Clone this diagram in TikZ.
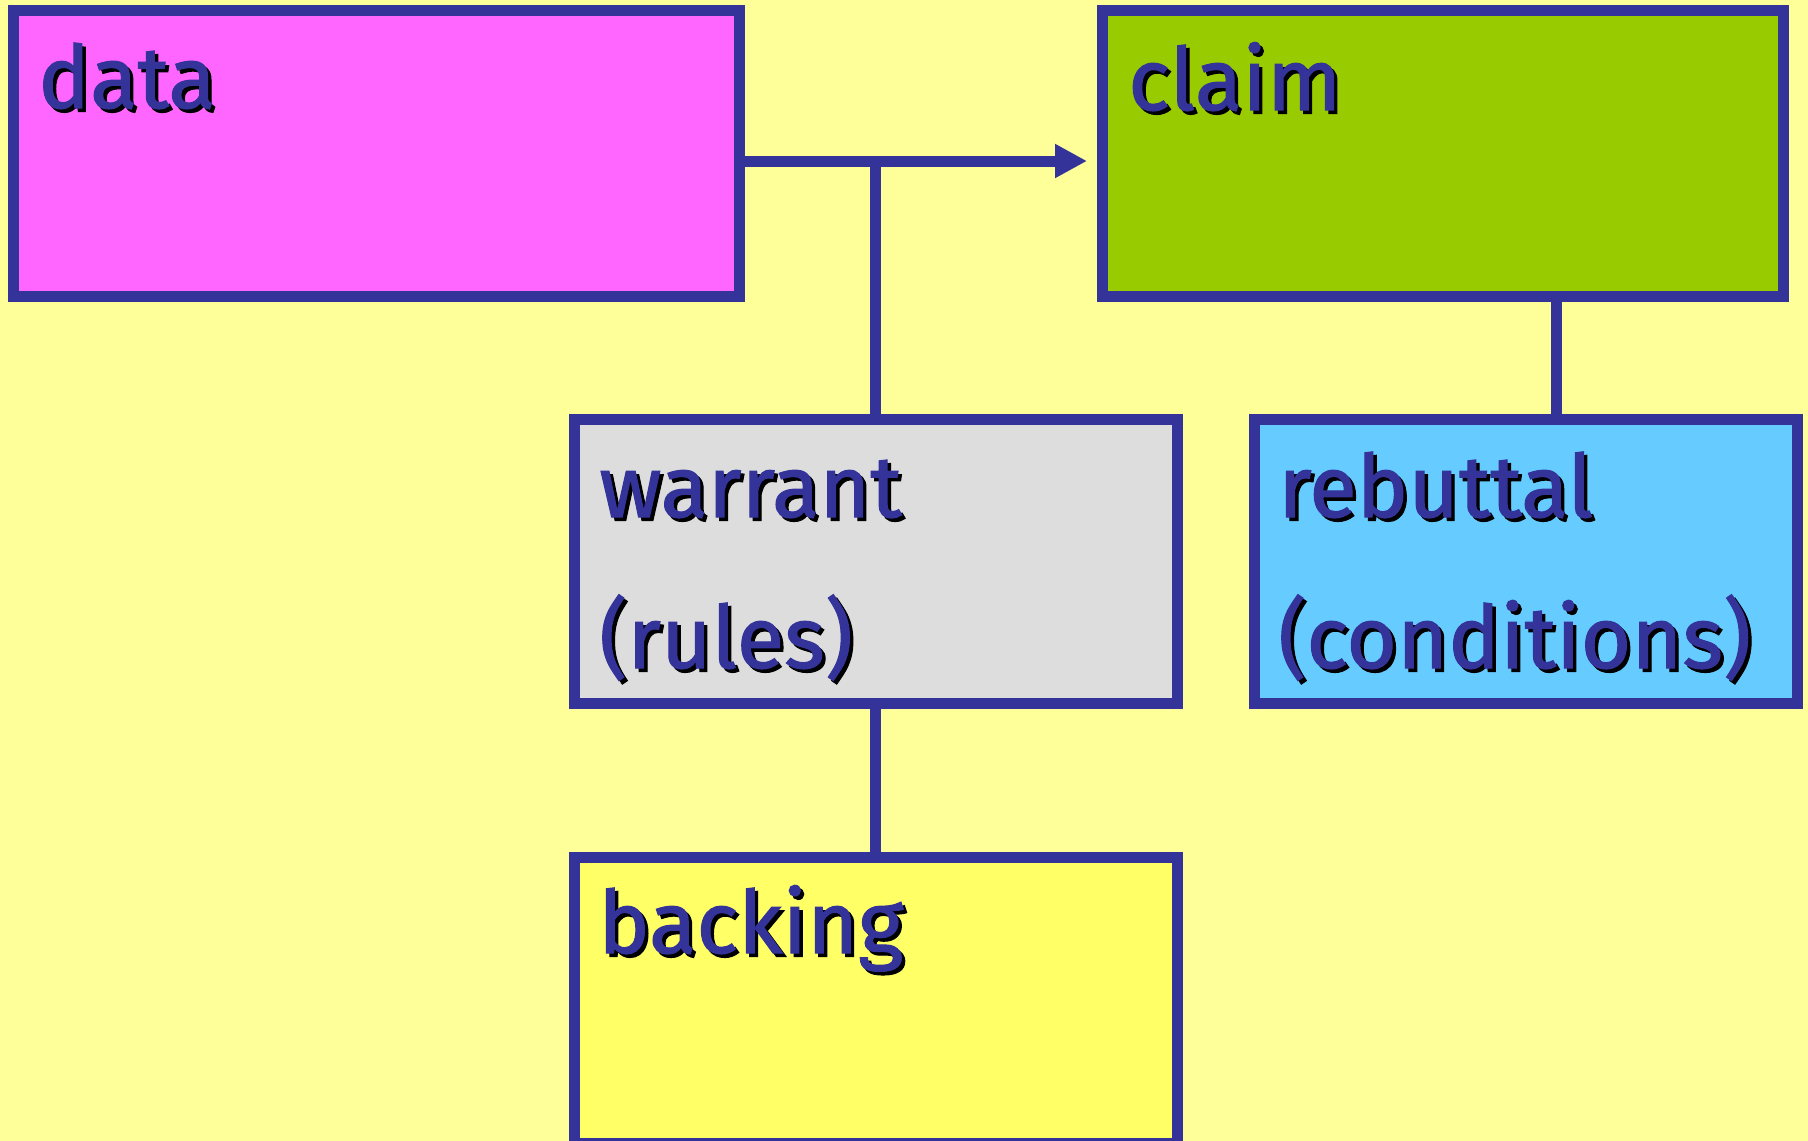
\documentclass[tikz,border=0pt]{standalone}
\usepackage{fontspec}
\setmainfont{Fira Sans}[FakeBold=1.2]
\newfontfamily\labelfont{Fira Sans}[FakeBold=1.2]
\usetikzlibrary{arrows.meta}

\definecolor{pagebg}{HTML}{FFFF99}
\definecolor{ink}{HTML}{333399}
\definecolor{datafill}{HTML}{FF66FF}
\definecolor{claimfill}{HTML}{99CC00}
\definecolor{warrantfill}{HTML}{DDDDDD}
\definecolor{rebutfill}{HTML}{66CCFF}
\definecolor{backfill}{HTML}{FFFF66}

% text with a black drop shadow behind it
\newcommand\shadowed[1]{\makebox[0pt][l]{\hspace{3.5pt}\raisebox{-3.5pt}{\color{black}#1}}#1}

\begin{document}
\begin{tikzpicture}[x=1pt,y=-1pt,
  box/.style={draw=ink, line width=11pt, rectangle, inner sep=0pt, outer sep=0pt},
  lbl/.style={anchor=base west, inner sep=0pt, text=ink,
    font=\labelfont\fontsize{87}{96}\selectfont},
  conn/.style={draw=ink, line width=11pt}]

  \fill[pagebg] (0,0) rectangle (1808,1141);
  \useasboundingbox (0,0) rectangle (1808,1141);
  \clip (0,0) rectangle (1808,1141);

  % the five boxes of the argument
  \node[box, fill=datafill, minimum width=725.5pt, minimum height=286pt]
    (data) at (376.25,153) {};
  \node[box, fill=claimfill, minimum width=681pt, minimum height=286pt]
    (claim) at (1442.5,153) {};
  \node[box, fill=warrantfill, minimum width=603pt, minimum height=284pt]
    (warrant) at (875.5,561) {};
  \node[box, fill=rebutfill, minimum width=543pt, minimum height=284pt]
    (rebuttal) at (1525.5,561) {};
  \node[box, fill=backfill, minimum width=603pt, minimum height=286pt]
    (backing) at (875.5,1000) {};

  % labels
  \node[lbl] (tdata) at (38,108) {\shadowed{data}};
  \node[lbl] (tclaim) at (1128,110) {\shadowed{claim}};
  \node[lbl] (twarrant) at (599,517) {\shadowed{warrant}};
  \node[lbl] (trules) at (599,668) {\shadowed{(rules)}};
  \node[lbl] (trebut) at (1278,517) {\shadowed{rebuttal}};
  \node[lbl] (tcond) at (1278,668) {\shadowed{(conditions)}};
  \node[lbl] (tback) at (598,953) {\shadowed{backing}};

  % connectors
  \coordinate (tip) at (1087,161);
  \coordinate (rjoin) at (1556,0);
  \draw[conn, -{Triangle[length=32pt,width=32pt]}] (data.east |- tip) -- (tip);
  \draw[conn] (warrant.north) -- (warrant.north |- tip);
  \draw[conn] (warrant.south) -- (backing.north);
  \draw[conn] (claim.south -| rjoin) -- (rebuttal.north -| rjoin);
\end{tikzpicture}
\end{document}
